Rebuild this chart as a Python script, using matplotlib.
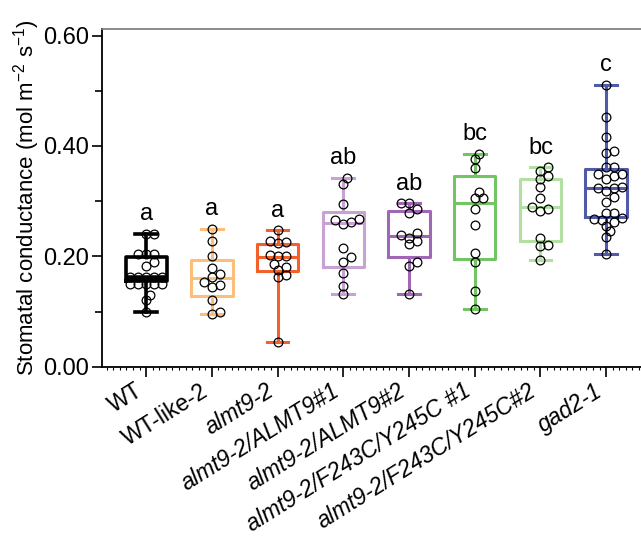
import matplotlib
matplotlib.use("Agg")
import matplotlib.pyplot as plt
import numpy as np

plt.rcParams["font.family"] = ["Liberation Sans", "DejaVu Sans"]

# group names, letters and colours
GROUPS = ["WT", "WT-like-2", "almt9-2", "almt9-2/ALMT9#1", "almt9-2/ALMT9#2",
          "almt9-2/F243C/Y245C #1", "almt9-2/F243C/Y245C#2", "gad2-1"]
ITALIC = [False, False, True, True, True, True, True, True]
LETTERS = ["a", "a", "a", "ab", "ab", "bc", "bc", "c"]
COLORS = ["#000000", "#FDBE7C", "#F2602B", "#C8A2D2", "#A067B4",
          "#72C562", "#B3DFA4", "#5159A9"]

wt = [0.240, 0.240, 0.204, 0.204, 0.204, 0.189, 0.183, 0.162, 0.162, 0.162,
      0.162, 0.162, 0.150, 0.150, 0.150, 0.150, 0.150, 0.130, 0.120, 0.100]
wt_like = [0.250, 0.228, 0.201, 0.178, 0.168, 0.162, 0.154, 0.148, 0.145,
           0.120, 0.100, 0.096]
almt9 = [0.247, 0.228, 0.226, 0.224, 0.202, 0.201, 0.200, 0.187, 0.180,
         0.176, 0.166, 0.163, 0.044]
almt9_c1 = [0.342, 0.331, 0.295, 0.268, 0.265, 0.262, 0.259, 0.215, 0.198,
            0.189, 0.170, 0.146, 0.131]
almt9_c2 = [0.296, 0.296, 0.286, 0.278, 0.243, 0.238, 0.234, 0.227, 0.222,
            0.189, 0.183, 0.131]
fy_1 = [0.386, 0.376, 0.360, 0.316, 0.306, 0.305, 0.286, 0.256, 0.206, 0.189,
        0.138, 0.105]
fy_2 = [0.361, 0.355, 0.346, 0.340, 0.325, 0.305, 0.290, 0.286, 0.282, 0.234,
        0.221, 0.218, 0.193]
gad2 = [0.511, 0.453, 0.416, 0.390, 0.387, 0.361, 0.361, 0.349, 0.349, 0.345,
        0.340, 0.326, 0.323, 0.323, 0.318, 0.307, 0.299, 0.279, 0.278, 0.269,
        0.267, 0.266, 0.263, 0.255, 0.245, 0.235, 0.204]
VALUES = [wt, wt_like, almt9, almt9_c1, almt9_c2, fy_1, fy_2, gad2]

# box statistics as drawn (min-to-max whiskers)
Q1 = [0.155, 0.129, 0.173, 0.181, 0.199, 0.195, 0.228, 0.272]
MED = [0.160, 0.160, 0.198, 0.261, 0.236, 0.297, 0.290, 0.323]
Q3 = [0.198, 0.193, 0.222, 0.280, 0.282, 0.346, 0.340, 0.358]


def swarm(vals, x0, ax, diam, step):
    """Simple beeswarm in pixel space: each point as close to the centre as it fits."""
    pts = ax.transData.transform(np.column_stack([np.full(len(vals), x0), vals]))
    order = np.argsort(pts[:, 1])
    placed = []
    out = np.zeros(len(vals))
    for i in order:
        y = pts[i, 1]
        for k in range(0, 60):
            dx = ((k + 1) // 2) * step * (1 if k % 2 else -1)
            if all((dx - px) ** 2 + (y - py) ** 2 >= diam ** 2 for px, py in placed):
                break
        placed.append((dx, y))
        out[i] = pts[i, 0] + dx
    back = ax.transData.inverted().transform(np.column_stack([out, pts[:, 1]]))
    return back[:, 0]


fig = plt.figure(figsize=(6.41, 5.36), dpi=100)
ax = fig.add_axes([0.1587, 0.3158, 0.8413, 0.6292])
ax.set_xlim(-0.677, 7.53)
ax.set_ylim(0, 0.611)

pos = np.arange(len(GROUPS))
for i, c in enumerate(COLORS):
    st = [dict(q1=Q1[i], med=MED[i], q3=Q3[i], whislo=min(VALUES[i]),
               whishi=max(VALUES[i]), fliers=[])]
    lw = 2.6 if i == 0 else 2.2
    ax.bxp(st, positions=[i], widths=0.63, capwidths=0.33, showfliers=False,
           boxprops=dict(color=c, lw=lw), whiskerprops=dict(color=c, lw=lw),
           capprops=dict(color=c, lw=lw),
           medianprops=dict(color=c, lw=4.0 if i == 0 else lw))

fig.canvas.draw()
for i, v in enumerate(VALUES):
    xs = swarm(v, i, ax, 6.5, 4.0)
    ax.plot(xs, v, "o", ms=6.3, mfc="none", mec="black", mew=0.9, zorder=5)
    ax.text(i, max(v) + 0.025, LETTERS[i], ha="center", va="baseline", fontsize=17)

ax.set_yticks([0, 0.2, 0.4, 0.6])
ax.set_yticklabels(["0.00", "0.20", "0.40", "0.60"])
ax.set_yticks([0.1, 0.3, 0.5], minor=True)
ax.set_xticks(pos)
ax.set_xticks(np.arange(-0.6, 7.55, 0.1), minor=True)
ax.set_xticklabels(GROUPS, rotation=32, ha="right", fontsize=16.5)
for lab, it in zip(ax.get_xticklabels(), ITALIC):
    if it:
        lab.set_fontstyle("italic")
ax.tick_params(axis="y", which="major", length=7, width=1.2, labelsize=17, pad=2)
ax.tick_params(axis="y", which="minor", length=5, width=1.2)
ax.tick_params(axis="x", which="major", length=7, width=1.2, pad=2)
ax.tick_params(axis="x", which="minor", length=2, width=0.8)
ax.set_ylabel(r"Stomatal conductance (mol m$^{\mathregular{-2}}$ s$^{\mathregular{-1}}$)",
              fontsize=16, labelpad=1)

ax.spines["right"].set_visible(False)
ax.spines["top"].set_color("#777777")
ax.spines["top"].set_linewidth(1.2)
ax.spines["left"].set_linewidth(1.3)
ax.spines["bottom"].set_linewidth(1.3)

fig.savefig("out.png", dpi=100)
